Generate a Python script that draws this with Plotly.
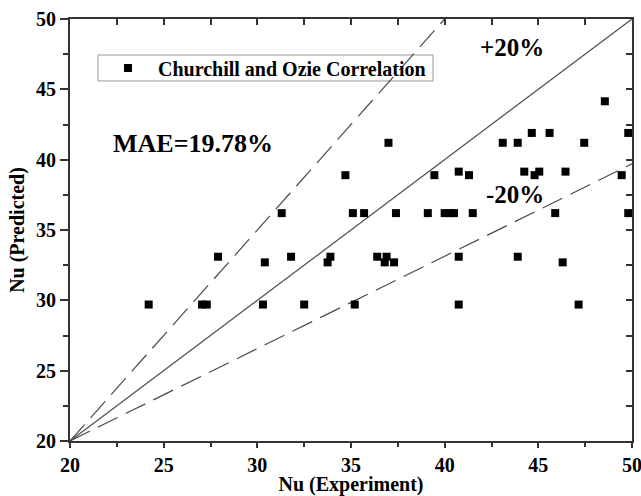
import plotly.graph_objects as go

# ---- data ----
x_exp = [24.2, 27.05, 27.3, 27.9, 30.3, 30.4, 31.3, 31.8, 32.5, 33.75, 33.9, 34.7,
         35.1, 35.2, 35.7, 36.4, 36.8, 36.9, 37.0, 37.3, 37.4, 39.1, 39.45, 40.0,
         40.3, 40.5, 40.75, 40.75, 40.75, 41.3, 41.5, 43.1, 43.9, 43.9, 44.25, 44.65,
         44.8, 45.05, 45.6, 45.9, 46.3, 46.45, 47.15, 47.45, 48.55, 49.45, 49.8, 49.8]
y_pred = [29.7, 29.7, 29.7, 33.1, 29.7, 32.7, 36.2, 33.1, 29.7, 32.7, 33.1, 38.9,
          36.2, 29.7, 36.2, 33.1, 32.7, 33.1, 41.2, 32.7, 36.2, 36.2, 38.9, 36.2,
          36.2, 36.2, 39.15, 33.1, 29.7, 38.9, 36.2, 41.2, 41.2, 33.1, 39.15, 41.9,
          38.9, 39.15, 41.9, 36.2, 32.7, 39.15, 29.7, 41.2, 44.15, 38.9, 41.9, 36.2]

perfect_x = [20, 50]
perfect_y = [20, 50]
upper_x = [20, 40]
upper_y = [20, 50]
lower_x = [20, 50]
lower_y = [20, 39.7]

series_name = "Churchill and Ozie Correlation"
x_title = "Nu (Experiment)"
y_title = "Nu (Predicted)"
tick_vals = [20, 25, 30, 35, 40, 45, 50]
tick_text = ["20", "25", "30", "35", "40", "45", "50"]
mirror_ticks = [22.5, 25, 27.5, 30, 32.5, 35, 37.5, 40, 42.5, 45, 47.5]

FONT = "Liberation Serif"
LINE_COL = "#4a4a4a"
AX_COL = "#333333"


def bfont(size, family=FONT):
    return dict(family=family, size=size, color="black", weight="bold")


fig = go.Figure()

fig.add_trace(go.Scatter(x=upper_x, y=upper_y, mode="lines", showlegend=False,
                         line=dict(color=LINE_COL, width=1.2, dash="22px,9px"),
                         hoverinfo="skip"))
fig.add_trace(go.Scatter(x=perfect_x, y=perfect_y, mode="lines", showlegend=False,
                         line=dict(color=LINE_COL, width=1.2), hoverinfo="skip"))
fig.add_trace(go.Scatter(x=lower_x, y=lower_y, mode="lines", showlegend=False,
                         line=dict(color=LINE_COL, width=1.2, dash="22px,9px"),
                         hoverinfo="skip"))
fig.add_trace(go.Scatter(x=x_exp, y=y_pred, mode="markers",
                         name=series_name,
                         marker=dict(symbol="square", size=8, color="black")))
# invisible trace so the mirrored (inward-ticked) top/right axes are drawn
fig.add_trace(go.Scatter(x=[20], y=[20], xaxis="x2", yaxis="y2", mode="markers",
                         marker=dict(opacity=0), showlegend=False, hoverinfo="skip"))

fig.update_layout(
    width=641, height=496,
    margin=dict(l=70, r=9, t=19, b=55, autoexpand=False),
    paper_bgcolor="white", plot_bgcolor="white",
    font=bfont(20),
    xaxis=dict(range=[20, 50], tickmode="array", tickvals=tick_vals,
               ticktext=tick_text, automargin=False,
               showgrid=False, zeroline=False,
               showline=True, linecolor=AX_COL, linewidth=2,
               ticks="outside", ticklen=5, tickwidth=1.5, tickcolor=AX_COL,
               minor=dict(dtick=2.5, tick0=20, ticks="outside", ticklen=4,
                          tickwidth=1.5, tickcolor=AX_COL),
               tickfont=bfont(20), ticklabeloverflow="allow",
               title=dict(text=x_title, font=bfont(20), standoff=2)),
    yaxis=dict(range=[20, 50], tickmode="array", tickvals=tick_vals,
               ticktext=tick_text, automargin=False,
               showgrid=False, zeroline=False,
               showline=True, linecolor=AX_COL, linewidth=2,
               ticks="outside", ticklen=8, tickwidth=1.5, tickcolor=AX_COL,
               minor=dict(dtick=2.5, tick0=20, ticks="outside", ticklen=5,
                          tickwidth=1.5, tickcolor=AX_COL),
               tickfont=bfont(20), ticklabeloverflow="allow",
               title=dict(text=y_title, font=bfont(20), standoff=6)),
    xaxis2=dict(range=[20, 50], overlaying="x", side="top", anchor="y2",
                automargin=False, showgrid=False, zeroline=False,
                showline=True, linecolor=AX_COL, linewidth=2,
                ticks="inside", tickmode="array", tickvals=mirror_ticks,
                ticktext=[""] * len(mirror_ticks), ticklen=6,
                tickwidth=1.5, tickcolor=AX_COL, showticklabels=True),
    yaxis2=dict(range=[20, 50], overlaying="y", side="right", anchor="x2",
                automargin=False, showgrid=False, zeroline=False,
                showline=True, linecolor=AX_COL, linewidth=2,
                ticks="inside", tickmode="array", tickvals=mirror_ticks,
                ticktext=[""] * len(mirror_ticks), ticklen=6,
                tickwidth=1.5, tickcolor=AX_COL, showticklabels=True),
    legend=dict(x=0.0498, y=0.930, xanchor="left", yanchor="top",
                bgcolor="rgba(255,255,255,0)", bordercolor="rgba(0,0,0,0)",
                borderwidth=0, font=bfont(20), itemwidth=50),
    showlegend=True,
    shapes=[dict(type="rect", xref="paper", yref="paper",
                 x0=0.0498, x1=0.6459, y0=0.8531, y1=0.9147,
                 line=dict(color="#999999", width=1), layer="below")],
)

fig.add_annotation(x=26.54, y=41.18, xref="x", yref="y", text="MAE=19.78%",
                   showarrow=False, font=bfont(26))
fig.add_annotation(x=43.59, y=47.94, xref="x", yref="y", text="+20%",
                   showarrow=False, font=bfont(25))
fig.add_annotation(x=43.74, y=37.49, xref="x", yref="y", text="-20%",
                   showarrow=False, font=bfont(25))

fig.write_html("out.html")
